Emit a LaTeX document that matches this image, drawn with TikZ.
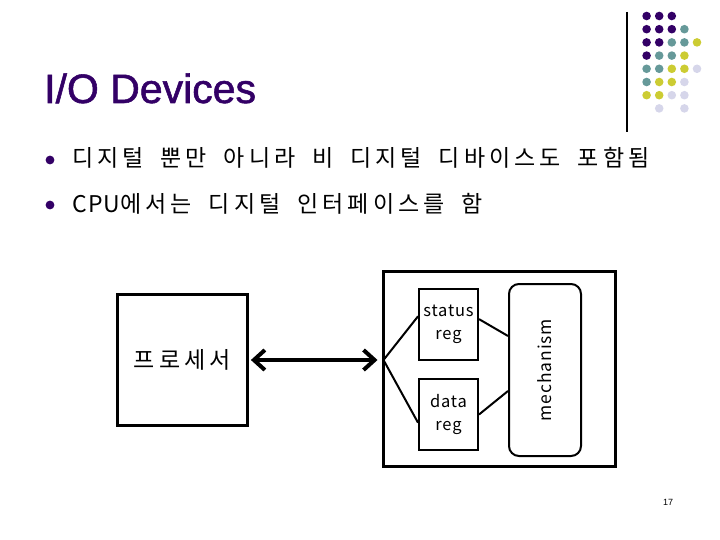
\documentclass[tikz,border=0pt]{standalone}
\usepackage{fontspec}
\setmainfont{Liberation Sans}
\newfontfamily\titlefont[FakeBold=1.3]{Liberation Sans}
\newfontfamily\kr[LetterSpace=18,WordSpace=1.8]{Noto Sans CJK KR}
\newfontfamily\krlatin[LetterSpace=5]{Noto Sans CJK KR}
\usetikzlibrary{arrows.meta}

\definecolor{slidepurple}{RGB}{51,0,102}
\definecolor{dotteal}{RGB}{102,153,153}
\definecolor{dotyellow}{RGB}{204,204,51}
\definecolor{dotlilac}{RGB}{214,214,234}

\tikzset{
  bigbox/.style   = {draw, line width=3pt, inner sep=0pt},
  regbox/.style   = {draw, line width=2pt, inner sep=0pt, minimum width=59pt,
                     minimum height=71pt, align=center,
                     font=\krlatin\fontsize{16.5}{22.5}\selectfont},
  mechbox/.style  = {draw, line width=2pt, rounded corners=10pt, inner sep=0pt,
                     minimum width=72pt, minimum height=172pt,
                     font=\krlatin\fontsize{17.5}{20}\selectfont},
  wire/.style     = {line width=2pt},
  bullettext/.style = {anchor=base west, inner sep=0pt,
                       font=\kr\fontsize{23}{27}\selectfont}
}

\begin{document}
\begin{tikzpicture}[x=1pt, y=-1pt]
    \useasboundingbox (0,0) rectangle (720,540);

    % title and bullets
    \node[anchor=base west, inner sep=0pt, text=slidepurple,
          font=\titlefont\fontsize{41}{45}\selectfont] (title) at (44,103) {I/O Devices};
    \fill[slidepurple] (50,160) circle (4.4pt);
    \fill[slidepurple] (50,205) circle (4.4pt);
    \node[bullettext] (line1) at (72,167) {디지털 뿐만 아니라 비 디지털 디바이스도 포함됨};
    \node[bullettext] (line2) at (72,212) {{\krlatin CPU}에서는 디지털 인터페이스를 함};

    % corner decoration
    \draw[line width=1.2pt] (627,12) -- (627,132);
    \foreach \c/\r/\col in {1/1/slidepurple, 2/1/slidepurple, 3/1/slidepurple,
        1/2/slidepurple, 2/2/slidepurple, 3/2/slidepurple, 4/2/dotteal,
        1/3/slidepurple, 2/3/slidepurple, 3/3/dotteal, 4/3/dotteal, 5/3/dotyellow,
        1/4/slidepurple, 2/4/dotteal, 3/4/dotteal, 4/4/dotyellow,
        1/5/dotteal, 2/5/dotteal, 3/5/dotyellow, 4/5/dotyellow, 5/5/dotlilac,
        1/6/dotteal, 2/6/dotyellow, 3/6/dotyellow, 4/6/dotlilac,
        1/7/dotyellow, 2/7/dotyellow, 3/7/dotlilac, 4/7/dotlilac,
        2/8/dotlilac, 4/8/dotlilac}
      \fill[\col] ({634+12.6*\c},{2.8+13.2*\r}) circle (4.3pt);

    % processor and device
    \node[bigbox, minimum width=130pt, minimum height=131pt,
          font=\kr\fontsize{23}{27}\selectfont] (cpu) at (182.4,360) {프로세서};
    \node[bigbox, minimum width=232pt, minimum height=195pt] (dev) at (499.5,369) {};
    \node[regbox] (status) at (448.5,324.5) {status\\reg};
    \node[regbox] (data) at (448.5,414.5) {data\\reg};
    \node[mechbox] (mech) at (545,370) {\rotatebox{90}{mechanism}};
    \coordinate (fan) at (383.5,360);

    \draw[line width=4pt, {Straight Barb[length=11pt,width=20pt]}-{Straight Barb[length=11pt,width=20pt]},
          shorten <=2pt, shorten >=6pt] (cpu.east) -- (fan);

    \draw[wire] (status.165) -- (fan) -- (data.195);
    \draw[wire] (status.10) -- ([yshift=34pt]mech.west);
    \draw[wire] (data.east) -- ([yshift=-21pt]mech.west);

    \node[font=\fontsize{9}{10}\selectfont, inner sep=0pt] (pagenum) at (668,502) {17};
\end{tikzpicture}
\end{document}
